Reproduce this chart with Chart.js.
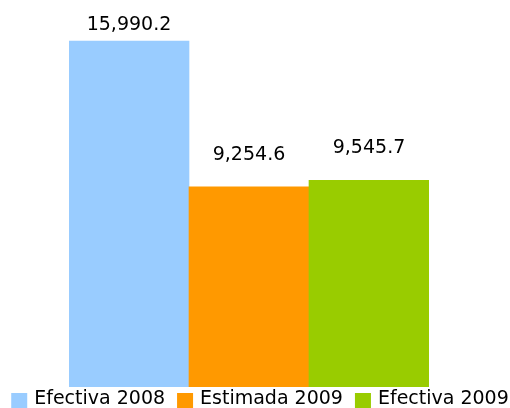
<!DOCTYPE html>
<html>
<head>
<meta charset="utf-8">
<script src="https://cdn.jsdelivr.net/npm/chart.js@4/dist/chart.umd.min.js"></script>
<style>
  html, body { margin: 0; padding: 0; background: #ffffff; }
  #wrap { width: 510px; height: 408px; position: relative; }
</style>
</head>
<body>
<div id="wrap"><canvas id="c" width="510" height="408"></canvas></div>
<script>
const categories = ["Efectiva 2008", "Estimada 2009", "Efectiva 2009"];
const values = [15990.2, 9254.6, 9545.7];
const valueLabels = ["15,990.2", "9,254.6", "9,545.7"];
const colors = ["#99CCFF", "#FF9900", "#99CC00"];

const FONT = "19px 'DejaVu Sans'";

const valueLabelPlugin = {
  id: 'valueLabels',
  afterDatasetsDraw(chart) {
    const ctx = chart.ctx;
    const meta = chart.getDatasetMeta(0);
    ctx.save();
    ctx.font = FONT;
    ctx.fillStyle = '#000000';
    ctx.textAlign = 'center';
    ctx.textBaseline = 'alphabetic';
    meta.data.forEach((bar, i) => {
      const y = Math.max(bar.y - 27, chart.chartArea.top + 30);
      ctx.fillText(valueLabels[i], bar.x, y);
    });
    ctx.restore();
  }
};

const legendPlugin = {
  id: 'bottomLegend',
  afterDraw(chart) {
    const ctx = chart.ctx;
    ctx.save();
    ctx.font = FONT;
    const box = 16, gapText = 7, gapItem = 12;
    const widths = categories.map(t => ctx.measureText(t).width);
    const total = widths.reduce((s, w) => s + box + gapText + w, 0) + gapItem * (categories.length - 1);
    let x = (chart.width - total) / 2 + 5;
    const boxTop = chart.chartArea.bottom + 6;
    const textMid = boxTop + 6;
    categories.forEach((t, i) => {
      ctx.fillStyle = colors[i];
      ctx.fillRect(x, boxTop, box, box);
      ctx.fillStyle = '#000000';
      ctx.textAlign = 'left';
      ctx.textBaseline = 'middle';
      ctx.fillText(t, x + box + gapText, textMid);
      x += box + gapText + widths[i] + gapItem;
    });
    ctx.restore();
  }
};

new Chart(document.getElementById('c'), {
  type: 'bar',
  data: {
    labels: categories,
    datasets: [{
      data: values,
      backgroundColor: colors,
      borderWidth: 0,
      barPercentage: 1,
      categoryPercentage: 1
    }]
  },
  options: {
    responsive: false,
    animation: false,
    layout: { padding: { left: 69, right: 81, top: 0, bottom: 21 } },
    plugins: {
      legend: { display: false },
      tooltip: { enabled: false }
    },
    scales: {
      x: { display: false },
      y: { display: false, min: 0, max: 17885 }
    }
  },
  plugins: [valueLabelPlugin, legendPlugin]
});
</script>
</body>
</html>
